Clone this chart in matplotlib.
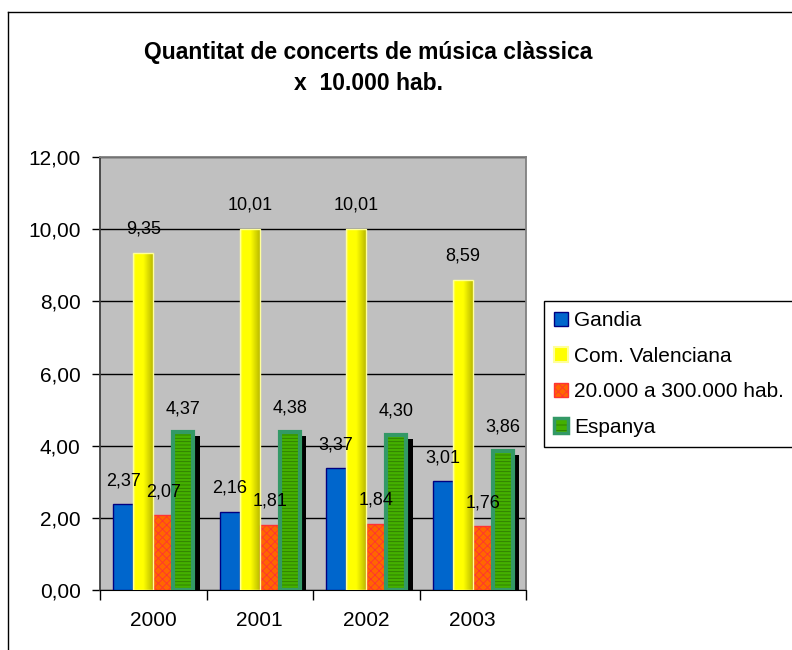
import numpy as np
import matplotlib
matplotlib.use("Agg")
import matplotlib.pyplot as plt
from matplotlib.patches import Patch
from matplotlib.lines import Line2D
from matplotlib.colors import LinearSegmentedColormap
from matplotlib.transforms import ScaledTranslation
from matplotlib.legend_handler import HandlerTuple

# --- data ---
years = ["2000", "2001", "2002", "2003"]
gandia = [2.37, 2.16, 3.37, 3.01]
com_valenciana = [9.35, 10.01, 10.01, 8.59]
mitjanes = [2.07, 1.81, 1.84, 1.76]
espanya = [4.37, 4.38, 4.30, 3.86]
series_names = ["Gandia", "Com. Valenciana", "20.000 a 300.000 hab.", "Espanya"]
title = "Quantitat de concerts de música clàssica\nx  10.000 hab."

plt.rcParams["font.family"] = ["Liberation Sans", "DejaVu Sans"]
plt.rcParams["hatch.linewidth"] = 0.6

W, H = 792, 650
fig = plt.figure(figsize=(W / 100, H / 100), dpi=100)
ax = fig.add_axes([100 / W, 1 - 590 / H, 426 / W, 433 / H])
ax.set_facecolor("#C0C0C0")

x = np.arange(len(years))
w = 0.188
offs = [(i - 1.5) * w for i in range(4)]

# Gandia - blue
ax.bar(x + offs[0], gandia, w, color="#0066CC", edgecolor="#000080", lw=1, zorder=3)

# Com. Valenciana - yellow with a horizontal gradient
ycmap = LinearSegmentedColormap.from_list(
    "yel", [(0, "#FFFF60"), (0.12, "#FFFF00"), (0.5, "#FFFF00"), (1, "#B4B400")])
ybars = ax.bar(x + offs[1], com_valenciana, w, color="none",
               edgecolor="#FFFF99", lw=1, zorder=4)
grad = np.linspace(0, 1, 64).reshape(1, -1)
for b in ybars:
    im = ax.imshow(grad, cmap=ycmap, aspect="auto", zorder=3,
                   extent=[b.get_x(), b.get_x() + b.get_width(), 0, b.get_height()])
    im.set_clip_path(b)

# 20.000 a 300.000 hab. - orange checker
ax.bar(x + offs[2], mitjanes, w, color="#FF6600", edgecolor="#FF3333",
       hatch="xxxx", lw=1, zorder=3)

# Espanya - black shadow, green stripes, teal border
shadow = ax.bar(x + offs[3], espanya, w, color="black", lw=0, zorder=2.9)
shift = ax.transData + ScaledTranslation(4.5 / 72, -3 / 72, fig.dpi_scale_trans)
for b in shadow:
    b.set_transform(shift)
ax.bar(x + offs[3], espanya, w, color="#44B000", edgecolor="#2E7A00",
       hatch="-----", lw=0, zorder=3)
ax.bar(x + offs[3], espanya, w, color="none", edgecolor="#339966", lw=3, zorder=4)

# data labels
for vals, off in zip([gandia, com_valenciana, mitjanes, espanya], offs):
    for xi, v in zip(x, vals):
        ax.annotate(f"{v:.2f}".replace(".", ","), (xi + off, v),
                    xytext=(0, 17), textcoords="offset points",
                    ha="center", va="center", fontsize=13, zorder=6)

ax.set_xlim(-0.5, len(years) - 0.5)
ax.set_ylim(0, 12)
ax.set_yticks(np.arange(0, 13, 2))
ax.set_yticklabels([f"{t:.2f}".replace(".", ",") for t in np.arange(0, 13, 2)])
ax.set_xticks(x)
ax.set_xticklabels(years)
ax.set_xticks(np.arange(-0.5, len(years)), minor=True)
ax.tick_params(axis="x", which="major", length=0, pad=15, labelsize=15)
ax.tick_params(axis="x", which="minor", length=7, width=1)
ax.tick_params(axis="y", length=6, width=1, pad=8, labelsize=15)

ax.set_axisbelow(True)
ax.yaxis.grid(True, color="black", lw=1)
for s in ["top", "right"]:
    ax.spines[s].set_color("#808080")
    ax.spines[s].set_linewidth(1.3)
ax.spines["left"].set_color("#404040")
ax.spines["left"].set_linewidth(1.3)
ax.spines["bottom"].set_color("black")

# legend
h_blue = Patch(facecolor="#0066CC", edgecolor="#000080", lw=1)
h_yel = Patch(facecolor="#FFFF00", edgecolor="#FFFF99", lw=1.5)
h_or = Patch(facecolor="#FF6600", edgecolor="#FF3333", hatch="xxxx", lw=1)
h_gr = (Patch(facecolor="#44B000", edgecolor="#2E7A00", hatch="---", lw=0),
        Patch(facecolor="none", edgecolor="#339966", lw=2.5))
leg = fig.legend([h_blue, h_yel, h_or, h_gr], series_names,
                 loc="upper left", mode="expand",
                 bbox_to_anchor=(544 / W, 1 - 444 / H, 0.4, 143 / H),
                 fontsize=15, frameon=True, fancybox=False, framealpha=1,
                 edgecolor="black", borderaxespad=0, borderpad=0.5,
                 handlelength=0.67, handleheight=0.67, handletextpad=0.27,
                 labelspacing=0.79, handler_map={tuple: HandlerTuple(ndivide=1)})
leg.get_frame().set_linewidth(1)

# title
fig.text(368 / W, 1 - 68 / H, title, ha="center", va="center",
         fontsize=16.5, fontweight="bold", linespacing=1.5)

# outer chart border
fig.add_artist(Line2D([8 / W, 8 / W], [0, 1 - 12 / H], transform=fig.transFigure,
                      color="black", lw=1))
fig.add_artist(Line2D([8 / W, 1], [1 - 12 / H, 1 - 12 / H], transform=fig.transFigure,
                      color="black", lw=1))

fig.savefig("out.png", dpi=100)
